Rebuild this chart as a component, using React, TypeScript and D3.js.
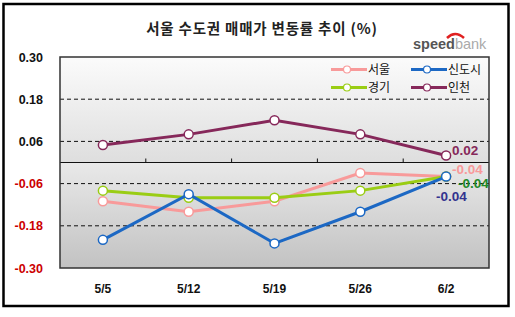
import React from "react";
import * as d3 from "d3";

const categories = ["5/5", "5/12", "5/19", "5/26", "6/2"];
const seoul = [-0.11, -0.14, -0.11, -0.03, -0.04];
const newTown = [-0.22, -0.09, -0.23, -0.14, -0.04];
const gyeonggi = [-0.08, -0.10, -0.10, -0.08, -0.04];
const incheon = [0.05, 0.08, 0.12, 0.08, 0.02];
const yTicks = [0.3, 0.18, 0.06, -0.06, -0.18, -0.3];
const endLabels = ["-0.04", "-0.04", "-0.04", "0.02"];

const series = [
  { name: "서울", values: seoul, color: "#f89a9a", labelColor: "#f89a9a" },
  { name: "경기", values: gyeonggi, color: "#9acd14", labelColor: "#1f8a2a" },
  { name: "신도시", values: newTown, color: "#1c68c4", labelColor: "#33338f" },
  { name: "인천", values: incheon, color: "#86285a", labelColor: "#86285a" },
];

export default function App() {
  const W = 515, H = 317;
  const left = 60, right = 489, top = 57, bottom = 268;
  const x = d3.scaleBand<string>().domain(categories).range([left, right]);
  const y = d3.scaleLinear().domain([-0.3, 0.3]).range([bottom, top]);
  const cx = (c: string) => (x(c) as number) + x.bandwidth() / 2;
  const line = d3.line<number>().x((_, i) => cx(categories[i])).y((v) => y(v));
  const y0 = y(0);

  const endPos = [
    { dx: 6, dy: -8 },
    { dx: 12, dy: 6 },
    { dx: -10, dy: 19 },
    { dx: 6, dy: -5 },
  ];

  const legendItems = [
    { s: series[0], lx: 331, ly: 69.5 },
    { s: series[2], lx: 411, ly: 69.5 },
    { s: series[1], lx: 331, ly: 87.5 },
    { s: series[3], lx: 411, ly: 87.5 },
  ];

  return (
    <svg width={W} height={H} style={{ position: "absolute", left: 0, top: 0, background: "#fff" }}
      fontFamily="Arial, 'Liberation Sans', sans-serif">
      <defs>
        <linearGradient id="gUp" x1="0" y1="0" x2="0" y2="1">
          <stop offset="0" stopColor="#fbfbfb" />
          <stop offset="1" stopColor="#dedede" />
        </linearGradient>
        <linearGradient id="gDown" x1="0" y1="0" x2="0" y2="1">
          <stop offset="0" stopColor="#e9e9e9" />
          <stop offset="1" stopColor="#c2c2c2" />
        </linearGradient>
      </defs>
      <rect x={3.5} y={4} width={505} height={302} fill="#fff" stroke="#000" strokeWidth={2.5} />

      <text x={262} y={34} textAnchor="middle" fontSize={14.5} fontWeight="bold"
        fontFamily="'Noto Sans CJK KR', sans-serif" fill="#222" letterSpacing={0.8}>
        서울 수도권 매매가 변동률 추이 (%)
      </text>
      <path d="M447,38 Q455,30 464,38" fill="none" stroke="#e02020" strokeWidth={2.5} />
      <text x={413} y={49} fontSize={14.5} fontFamily="'Liberation Sans', Arial, sans-serif">
        <tspan fontWeight="bold" fill="#555">speed</tspan>
        <tspan fill="#aaa">bank</tspan>
      </text>

      <rect x={left} y={top} width={right - left} height={y0 - top} fill="url(#gUp)" />
      <rect x={left} y={y0} width={right - left} height={bottom - y0} fill="url(#gDown)" />

      {yTicks.filter((t) => Math.abs(t) < 0.29).map((t) => (
        <line key={t} x1={left} x2={right} y1={y(t)} y2={y(t)} stroke="#111" strokeWidth={1} strokeDasharray="4,3" />
      ))}
      <line x1={left} x2={right} y1={y0} y2={y0} stroke="#111" strokeWidth={1.2} />
      {categories.slice(1).map((c) => (
        <line key={c} x1={x(c) as number} x2={x(c) as number} y1={y0} y2={y0 - 4} stroke="#111" strokeWidth={1} />
      ))}
      <rect x={left} y={top} width={right - left} height={bottom - top} fill="none" stroke="#333" strokeWidth={1.5} />

      {yTicks.map((t) => (
        <text key={t} x={43} y={y(t) + 4.5} textAnchor="end" fontSize={12.5} fontWeight="bold"
          fill={t < 0 ? "#cc0000" : "#111"}>
          {t.toFixed(2)}
        </text>
      ))}
      {categories.map((c) => (
        <text key={c} x={cx(c)} y={293} textAnchor="middle" fontSize={12} fontWeight="bold" fill="#111">
          {c}
        </text>
      ))}

      {series.map((s) => (
        <g key={s.name}>
          <path d={line(s.values) || ""} fill="none" stroke={s.color} strokeWidth={3} />
          {s.values.map((v, i) => (
            <circle key={i} cx={cx(categories[i])} cy={y(v)} r={4.5} fill="#fff" stroke={s.color} strokeWidth={1.5} />
          ))}
        </g>
      ))}

      {series.map((s, k) => {
        const last = s.values.length - 1;
        return (
          <text key={s.name} x={cx(categories[last]) + endPos[k].dx} y={y(s.values[last]) + endPos[k].dy + 5}
            fontSize={13.5} fontWeight="bold" fill={s.labelColor}>
            {endLabels[k]}
          </text>
        );
      })}

      {legendItems.map(({ s, lx, ly }) => (
        <g key={s.name}>
          <line x1={lx} x2={lx + 36} y1={ly} y2={ly} stroke={s.color} strokeWidth={3} />
          <circle cx={lx + 16} cy={ly} r={3.5} fill="#fff" stroke={s.color} strokeWidth={1.2} />
          <text x={lx + 37} y={ly + 4.5} fontSize={12} fill="#111"
            fontFamily="'Noto Sans CJK KR', sans-serif">{s.name}</text>
        </g>
      ))}
    </svg>
  );
}
